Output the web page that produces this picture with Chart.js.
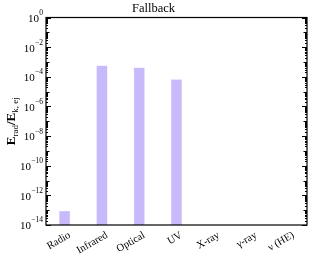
<!DOCTYPE html>
<html>
<head>
<meta charset="utf-8">
<script src="https://cdn.jsdelivr.net/npm/chart.js@4.4.1/dist/chart.umd.min.js"></script>
<style>
  html, body { margin: 0; padding: 0; background: #fff; }
  #wrap { width: 312px; height: 262px; }
</style>
</head>
<body>
<div id="wrap"><canvas id="chart" width="312" height="262"></canvas></div>
<script>
// data
const bands = ['Radio', 'Infrared', 'Optical', 'UV', 'X-ray', 'γ-ray', 'ν (HE)'];
const energyRatio = [9e-14, 5.8e-4, 4.2e-4, 6.8e-5, null, null, null];
const yExponents = [0, -2, -4, -6, -8, -10, -12, -14];

const SERIF = "'Liberation Serif', 'DejaVu Serif', serif";

// draws the box, inward ticks, 10^n labels and the y title
const axisDeco = {
  id: 'axisDeco',
  afterDraw(chart) {
    const { ctx, chartArea: a } = chart;
    const y = chart.scales.y;
    ctx.save();
    ctx.strokeStyle = '#000';
    ctx.lineWidth = 1.2;
    ctx.strokeRect(a.left, a.top, a.right - a.left, a.bottom - a.top);

    // ticks on left and right, pointing in
    ctx.lineWidth = 1;
    for (let e = -14; e <= 0; e++) {
      for (let m = 1; m <= 9; m++) {
        const v = m * Math.pow(10, e);
        if (v > 1) break;
        const py = Math.round(y.getPixelForValue(v)) + 0.5;
        const len = m === 1 ? (e % 2 === 0 ? 5 : 3.5) : 2;
        ctx.beginPath();
        ctx.moveTo(a.left, py); ctx.lineTo(a.left + len, py);
        ctx.moveTo(a.right, py); ctx.lineTo(a.right - len, py);
        ctx.stroke();
      }
    }

    // tick labels with superscript
    ctx.fillStyle = '#000';
    ctx.textBaseline = 'middle';
    yExponents.forEach(e => {
      const py = y.getPixelForValue(Math.pow(10, e));
      const sup = e === 0 ? '0' : '\u2212' + Math.abs(e);
      ctx.font = '7.5px ' + SERIF;
      const w = ctx.measureText(sup).width;
      const xEnd = a.left - 3;
      ctx.textAlign = 'left';
      ctx.fillText(sup, xEnd - w, py - 4.5);
      ctx.font = '11px ' + SERIF;
      ctx.textAlign = 'right';
      ctx.fillText('10', xEnd - w - 0.3, py + 1.5);
    });

    // y title: E_rad/E_k, ej
    const parts = [
      { t: 'E', f: 'bold 13px ' + SERIF, dy: 0 },
      { t: 'rad', f: '9px ' + SERIF, dy: 3 },
      { t: '/E', f: 'bold 13px ' + SERIF, dy: 0 },
      { t: 'k, ej', f: '9px ' + SERIF, dy: 3 }
    ];
    let total = 0;
    parts.forEach(p => { ctx.font = p.f; p.w = ctx.measureText(p.t).width; total += p.w; });
    ctx.translate(15, (a.top + a.bottom) / 2);
    ctx.rotate(-Math.PI / 2);
    ctx.textAlign = 'left';
    ctx.textBaseline = 'alphabetic';
    let x = -total / 2;
    parts.forEach(p => {
      ctx.font = p.f;
      ctx.fillText(p.t, x, p.dy);
      x += p.w;
    });
    ctx.restore();
  }
};

new Chart(document.getElementById('chart'), {
  type: 'bar',
  data: {
    labels: bands,
    datasets: [{
      data: energyRatio,
      backgroundColor: 'rgb(200, 186, 250)',
      borderColor: 'rgb(214, 204, 252)',
      borderWidth: 0.5,
      barPercentage: 0.3,
      categoryPercentage: 1.0
    }]
  },
  options: {
    responsive: false,
    animation: false,
    layout: { padding: { left: 0, right: 5, top: 0, bottom: 0 } },
    plugins: {
      legend: { display: false },
      tooltip: { enabled: false },
      title: {
        display: true,
        text: 'Fallback',
        color: '#000',
        font: { family: SERIF, size: 12.5, weight: 'normal', lineHeight: 1.2 },
        padding: { top: 1, bottom: 1.5 }
      }
    },
    scales: {
      x: {
        grid: { display: false, drawTicks: false },
        border: { display: false },
        ticks: {
          color: '#000',
          font: { family: SERIF, size: 10.5 },
          minRotation: 30,
          maxRotation: 30,
          padding: 4,
          labelOffset: 5
        },
        afterFit(scale) { scale.height = 37; }
      },
      y: {
        type: 'logarithmic',
        min: 1e-14,
        max: 1,
        grid: { display: false, drawTicks: false },
        border: { display: false },
        ticks: { display: false },
        afterFit(scale) { scale.width = 46; }
      }
    }
  },
  plugins: [axisDeco]
});
</script>
</body>
</html>
